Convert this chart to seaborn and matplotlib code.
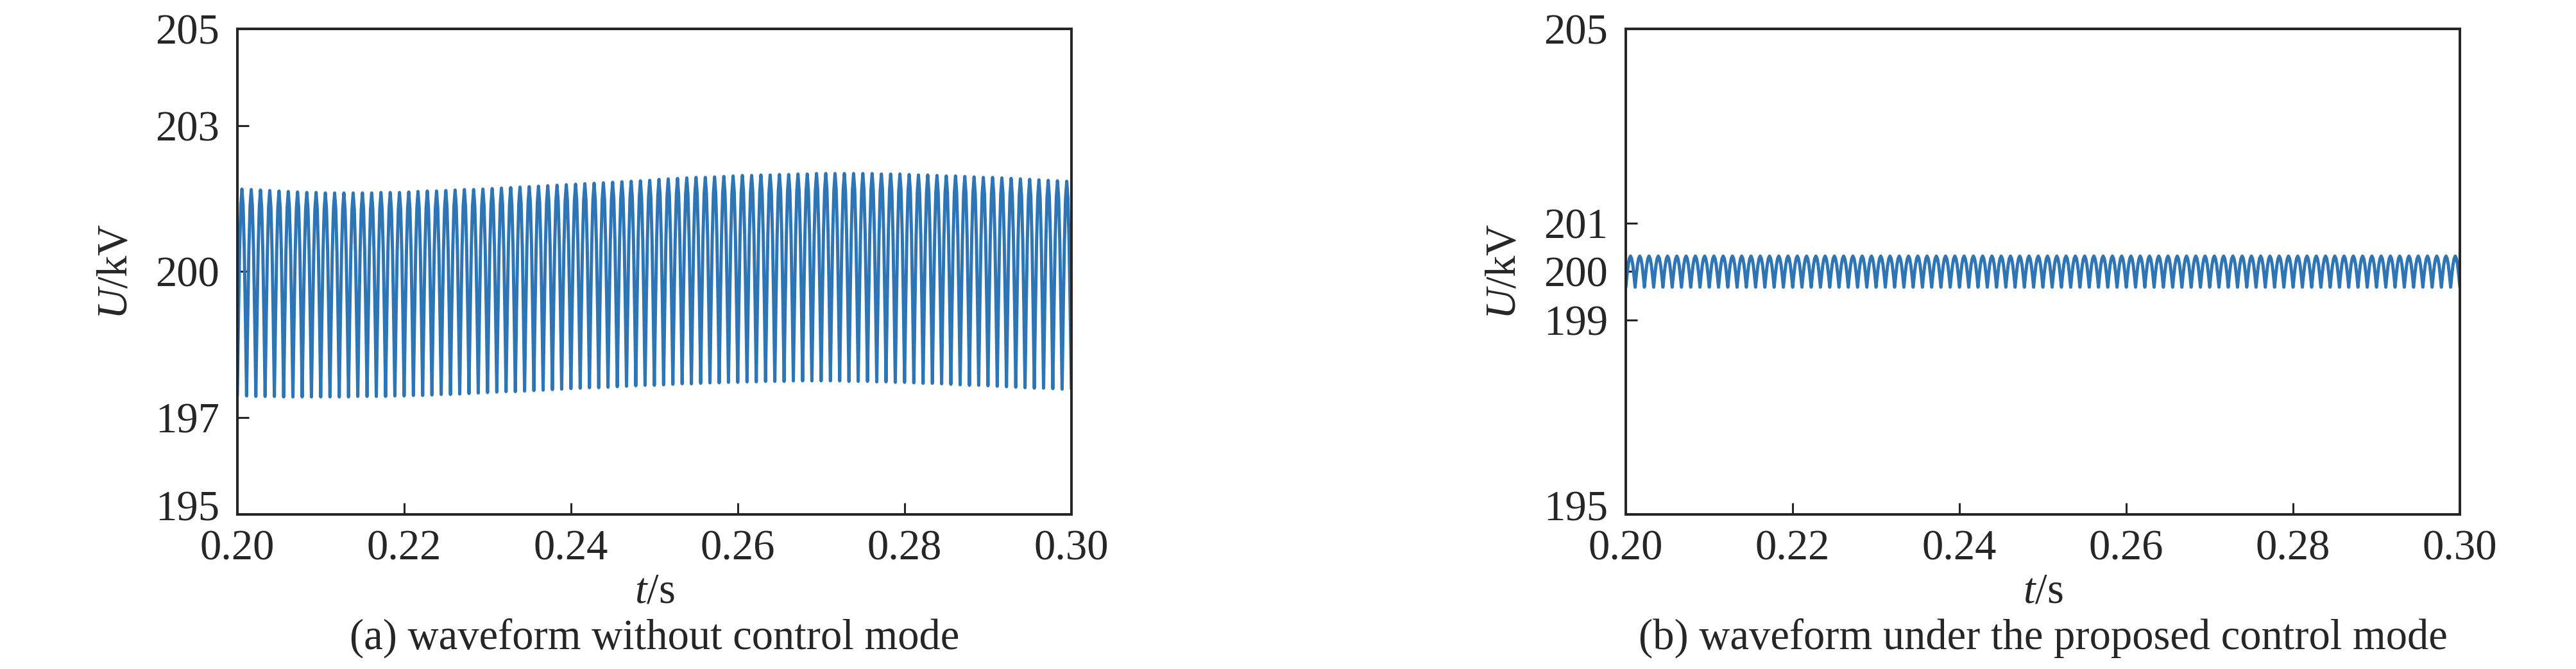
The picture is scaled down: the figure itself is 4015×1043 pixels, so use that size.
import numpy as np
import pandas as pd
import matplotlib.pyplot as plt
import matplotlib.transforms as mtrans
import seaborn as sns

# time span of both panels (s) and number of ripple cycles seen in it
t_start, t_end = 0.20, 0.30
n_cycles = 90

# shape of one ripple cycle (trough -> crest -> trough), normalised 0..1
cycle_shape = [0.0, 0.38, 0.71, 0.92, 1.0, 0.92, 0.71, 0.38]

# (a) without control: crest and trough of each cycle, kV
peak_a = [201.70, 201.69, 201.68, 201.67, 201.66, 201.65, 201.64, 201.63, 201.63,
          201.62, 201.62, 201.62, 201.62, 201.62, 201.62, 201.63, 201.63, 201.63,
          201.64, 201.65, 201.66, 201.66, 201.67, 201.68, 201.69, 201.69, 201.70,
          201.71, 201.72, 201.73, 201.74, 201.75, 201.76, 201.77, 201.78, 201.79,
          201.80, 201.81, 201.82, 201.83, 201.84, 201.85, 201.86, 201.87, 201.88,
          201.90, 201.91, 201.92, 201.93, 201.94, 201.94, 201.95, 201.96, 201.97,
          201.98, 201.98, 201.99, 201.99, 202.00, 202.00, 202.01, 202.01, 202.02,
          202.02, 202.02, 202.02, 202.02, 202.02, 202.02, 202.01, 202.01, 202.01,
          202.00, 201.99, 201.99, 201.98, 201.97, 201.97, 201.96, 201.95, 201.94,
          201.94, 201.93, 201.92, 201.91, 201.90, 201.89, 201.88, 201.87, 201.86]
trough_a = [197.44, 197.44, 197.43, 197.43, 197.43, 197.42, 197.42, 197.42, 197.42,
            197.42, 197.42, 197.42, 197.42, 197.43, 197.43, 197.43, 197.43, 197.44,
            197.44, 197.45, 197.45, 197.46, 197.47, 197.47, 197.48, 197.49, 197.50,
            197.51, 197.52, 197.53, 197.53, 197.54, 197.55, 197.56, 197.57, 197.58,
            197.59, 197.60, 197.61, 197.61, 197.62, 197.63, 197.64, 197.65, 197.66,
            197.66, 197.67, 197.68, 197.69, 197.69, 197.70, 197.71, 197.71, 197.72,
            197.72, 197.73, 197.73, 197.74, 197.74, 197.74, 197.75, 197.75, 197.75,
            197.75, 197.75, 197.75, 197.74, 197.74, 197.74, 197.73, 197.73, 197.72,
            197.72, 197.71, 197.70, 197.70, 197.69, 197.68, 197.67, 197.66, 197.66,
            197.65, 197.64, 197.63, 197.62, 197.61, 197.60, 197.60, 197.59, 197.58]

# (b) proposed control: ripple stays flat around 200 kV
peak_b = [200.32] * n_cycles
trough_b = [199.68] * n_cycles

yticks_a = [195, 197, 200, 203, 205]
yticks_b = [195, 199, 200, 201, 205]
xticks = [0.20, 0.22, 0.24, 0.26, 0.28, 0.30]
captions = ['(a) waveform without control mode',
            '(b) waveform under the proposed control mode']


def build_wave(peaks, troughs):
    vals = []
    for p, tr in zip(peaks, troughs):
        for s in cycle_shape:
            vals.append(tr + (p - tr) * s)
    vals.append(troughs[-1])
    t = np.linspace(t_start, t_end, len(vals))
    return pd.DataFrame({'t': t, 'U': vals})


sns.set_style('ticks')
plt.rcParams['font.family'] = ['Liberation Serif', 'DejaVu Serif']
plt.rcParams['mathtext.fontset'] = 'custom'
plt.rcParams['mathtext.rm'] = 'Liberation Serif'
plt.rcParams['mathtext.it'] = 'Liberation Serif:italic'

ink = '#262626'
blue = '#2E75B6'
fs = 48

fig = plt.figure(figsize=(40.16, 10.43), dpi=100)
ax_a = fig.add_axes([0.0921, 0.2311, 0.3237, 0.7258])
ax_b = fig.add_axes([0.6310, 0.2311, 0.3237, 0.7258])

panels = [(ax_a, peak_a, trough_a, yticks_a), (ax_b, peak_b, trough_b, yticks_b)]
for ax, pk, tr, yt in panels:
    df = build_wave(pk, tr)
    sns.lineplot(data=df, x='t', y='U', ax=ax, color=blue, lw=3.6,
                 estimator=None, sort=False)
    ax.set_xlim(t_start, t_end)
    ax.set_ylim(195, 205)
    ax.set_xticks(xticks)
    ax.set_xticklabels([f'{v:.2f}' for v in xticks])
    ax.set_yticks(yt)
    ax.set_yticklabels([str(v) for v in yt])
    ax.tick_params(direction='in', length=13, width=2.2, colors=ink,
                   labelsize=fs, top=False, right=False)
    ax.tick_params(axis='y', pad=20)
    ax.tick_params(axis='x', pad=17)
    for sp in ax.spines.values():
        sp.set_linewidth(2.9)
        sp.set_color(ink)
    # lowest y label sits a little above its tick, clear of the 0.20 label
    lab = ax.get_yticklabels()[0]
    lab.set_transform(lab.get_transform() +
                      mtrans.ScaledTranslation(0, 10 / 72, fig.dpi_scale_trans))
    ax.set_xlabel(r'$t$/s', fontsize=fs, color=ink, labelpad=4)
    ax.set_ylabel(r'$U$/kV', fontsize=fs, color=ink, labelpad=22)

for ax, cap in zip([ax_a, ax_b], captions):
    pos = ax.get_position()
    fig.text(pos.x0 + pos.width / 2, 1 - 1012 / 1043, cap, ha='center',
             va='baseline', fontsize=fs, color=ink)

plt.savefig('out.png', dpi=100)
